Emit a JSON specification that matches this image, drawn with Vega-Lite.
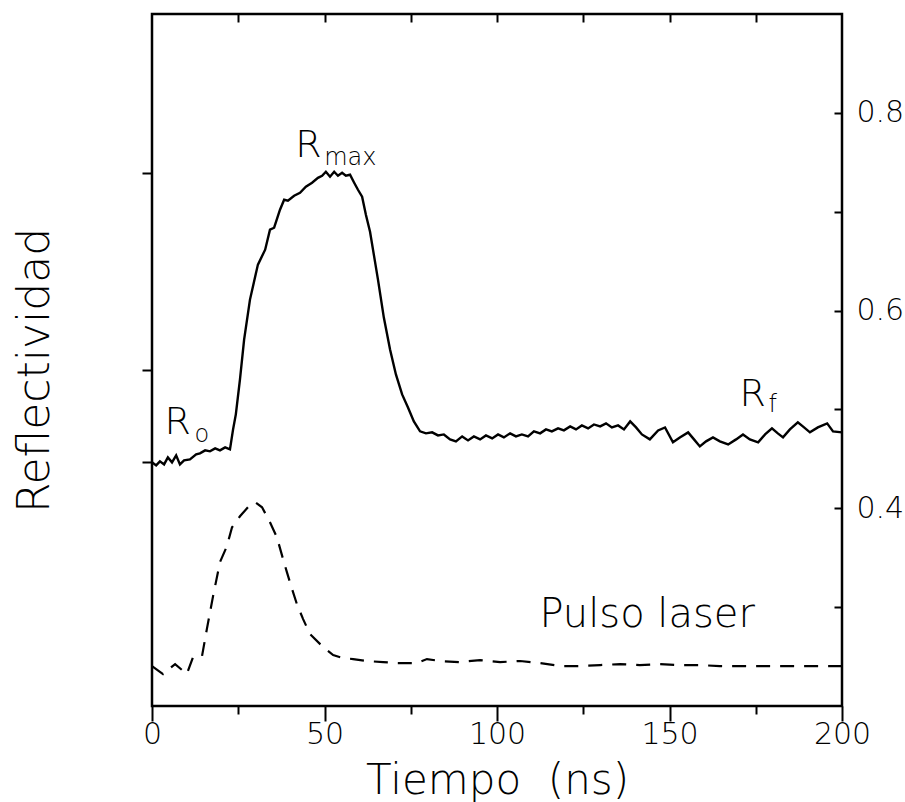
{
  "$schema": "https://vega.github.io/schema/vega-lite/v6.json",
  "width": 690,
  "height": 692,
  "autosize": {"type": "none"},
  "padding": {"left": 152, "top": 14, "right": 63, "bottom": 96},
  "background": "white",
  "datasets": {
    "reflect": [
      {"t": 0, "r": 0.4465}, {"t": 1.2, "r": 0.4434}, {"t": 2.3, "r": 0.4475}, {"t": 3.5, "r": 0.4444},
      {"t": 4.6, "r": 0.4515}, {"t": 5.8, "r": 0.4465}, {"t": 7.0, "r": 0.4535}, {"t": 8.1, "r": 0.4444},
      {"t": 9.3, "r": 0.4485}, {"t": 11.0, "r": 0.4495}, {"t": 12.8, "r": 0.4545}, {"t": 13.9, "r": 0.4556},
      {"t": 15.4, "r": 0.4586}, {"t": 16.8, "r": 0.4576}, {"t": 18.3, "r": 0.4606}, {"t": 19.7, "r": 0.4586},
      {"t": 21.2, "r": 0.4616}, {"t": 22.6, "r": 0.4596}, {"t": 23.5, "r": 0.4798}, {"t": 24.3, "r": 0.495},
      {"t": 25.5, "r": 0.5303}, {"t": 26.7, "r": 0.5707}, {"t": 28.4, "r": 0.6111}, {"t": 30.7, "r": 0.6465},
      {"t": 32.8, "r": 0.6616}, {"t": 34.2, "r": 0.6818}, {"t": 35.4, "r": 0.6838}, {"t": 37.1, "r": 0.702},
      {"t": 38.3, "r": 0.7121}, {"t": 39.4, "r": 0.7111}, {"t": 41.2, "r": 0.7162}, {"t": 42.9, "r": 0.7192},
      {"t": 44.6, "r": 0.7253}, {"t": 46.4, "r": 0.7293}, {"t": 48.1, "r": 0.7343}, {"t": 49.3, "r": 0.7364},
      {"t": 50.4, "r": 0.7404}, {"t": 51.6, "r": 0.7354}, {"t": 52.8, "r": 0.7404}, {"t": 53.9, "r": 0.7364},
      {"t": 55.1, "r": 0.7394}, {"t": 56.2, "r": 0.7364}, {"t": 57.4, "r": 0.7374}, {"t": 58.6, "r": 0.7293},
      {"t": 59.7, "r": 0.7222}, {"t": 60.9, "r": 0.7152}, {"t": 62.0, "r": 0.697}, {"t": 63.2, "r": 0.6798},
      {"t": 64.3, "r": 0.6566}, {"t": 65.5, "r": 0.6313}, {"t": 67.2, "r": 0.5929}, {"t": 69.0, "r": 0.5606},
      {"t": 70.7, "r": 0.5354}, {"t": 72.5, "r": 0.5152}, {"t": 74.2, "r": 0.502}, {"t": 75.9, "r": 0.4879},
      {"t": 77.7, "r": 0.4778}, {"t": 79.4, "r": 0.4758}, {"t": 81.2, "r": 0.4768}, {"t": 82.9, "r": 0.4737},
      {"t": 84.6, "r": 0.4747}, {"t": 86.4, "r": 0.4697}, {"t": 88.1, "r": 0.4677}, {"t": 89.9, "r": 0.4727},
      {"t": 91.6, "r": 0.4687}, {"t": 93.3, "r": 0.4727}, {"t": 95.1, "r": 0.4697}, {"t": 96.8, "r": 0.4737},
      {"t": 98.6, "r": 0.4707}, {"t": 100.3, "r": 0.4747}, {"t": 102.0, "r": 0.4717}, {"t": 103.8, "r": 0.4758},
      {"t": 105.5, "r": 0.4727}, {"t": 107.2, "r": 0.4747}, {"t": 109.0, "r": 0.4727}, {"t": 110.7, "r": 0.4778},
      {"t": 112.5, "r": 0.4758}, {"t": 114.2, "r": 0.4798}, {"t": 115.9, "r": 0.4778}, {"t": 117.7, "r": 0.4808},
      {"t": 119.4, "r": 0.4788}, {"t": 121.2, "r": 0.4828}, {"t": 122.9, "r": 0.4798}, {"t": 124.6, "r": 0.4838},
      {"t": 126.4, "r": 0.4808}, {"t": 128.1, "r": 0.4848}, {"t": 129.9, "r": 0.4828}, {"t": 131.6, "r": 0.4859},
      {"t": 133.3, "r": 0.4818}, {"t": 135.1, "r": 0.4838}, {"t": 136.8, "r": 0.4798}, {"t": 138.6, "r": 0.4879},
      {"t": 140.3, "r": 0.4818}, {"t": 142.0, "r": 0.4747}, {"t": 144.3, "r": 0.4697}, {"t": 146.7, "r": 0.4788},
      {"t": 148.7, "r": 0.4818}, {"t": 151.0, "r": 0.4667}, {"t": 153.0, "r": 0.4717}, {"t": 155.4, "r": 0.4768},
      {"t": 157.1, "r": 0.4697}, {"t": 158.8, "r": 0.4626}, {"t": 160.6, "r": 0.4677}, {"t": 162.6, "r": 0.4717},
      {"t": 164.6, "r": 0.4677}, {"t": 167.0, "r": 0.4646}, {"t": 169.3, "r": 0.4697}, {"t": 171.3, "r": 0.4747},
      {"t": 173.3, "r": 0.4697}, {"t": 175.7, "r": 0.4667}, {"t": 177.7, "r": 0.4747}, {"t": 179.7, "r": 0.4808},
      {"t": 181.4, "r": 0.4758}, {"t": 182.9, "r": 0.4717}, {"t": 184.9, "r": 0.4798}, {"t": 187.2, "r": 0.4869},
      {"t": 189.0, "r": 0.4818}, {"t": 190.7, "r": 0.4768}, {"t": 193.0, "r": 0.4818}, {"t": 195.7, "r": 0.4859},
      {"t": 197.4, "r": 0.4778}, {"t": 200, "r": 0.4768}
    ],
    "pulse": [
      {"t": 0, "p": 0.2404}, {"t": 3.2, "p": 0.2323}, {"t": 6.7, "p": 0.2424}, {"t": 10.1, "p": 0.2323},
      {"t": 11.9, "p": 0.2495}, {"t": 14.5, "p": 0.2505}, {"t": 15.9, "p": 0.2778}, {"t": 17.7, "p": 0.3111},
      {"t": 19.7, "p": 0.3455}, {"t": 21.7, "p": 0.3616}, {"t": 23.2, "p": 0.3808}, {"t": 25.5, "p": 0.3919},
      {"t": 27.8, "p": 0.401}, {"t": 29.9, "p": 0.4061}, {"t": 31.9, "p": 0.401}, {"t": 34.2, "p": 0.3859},
      {"t": 36.2, "p": 0.3707}, {"t": 38.0, "p": 0.3485}, {"t": 39.1, "p": 0.3354}, {"t": 40.6, "p": 0.3182},
      {"t": 42.0, "p": 0.303}, {"t": 43.8, "p": 0.2879}, {"t": 45.8, "p": 0.2727}, {"t": 49.6, "p": 0.2596},
      {"t": 52.5, "p": 0.2515}, {"t": 55.4, "p": 0.2485}, {"t": 58.3, "p": 0.2475}, {"t": 62.3, "p": 0.2455},
      {"t": 67.0, "p": 0.2444}, {"t": 71.0, "p": 0.2434}, {"t": 76.8, "p": 0.2434}, {"t": 79.7, "p": 0.2475},
      {"t": 83.5, "p": 0.2455}, {"t": 89.3, "p": 0.2444}, {"t": 95.1, "p": 0.2465}, {"t": 100.9, "p": 0.2444},
      {"t": 106.7, "p": 0.2455}, {"t": 112.5, "p": 0.2434}, {"t": 118.3, "p": 0.2404}, {"t": 124.1, "p": 0.2404},
      {"t": 129.9, "p": 0.2414}, {"t": 135.7, "p": 0.2424}, {"t": 141.4, "p": 0.2414}, {"t": 147.2, "p": 0.2424},
      {"t": 153.0, "p": 0.2414}, {"t": 158.8, "p": 0.2414}, {"t": 164.6, "p": 0.2404}, {"t": 170.4, "p": 0.2404},
      {"t": 176.2, "p": 0.2404}, {"t": 182.0, "p": 0.2404}, {"t": 187.8, "p": 0.2404}, {"t": 193.6, "p": 0.2404},
      {"t": 200, "p": 0.2404}
    ],
    "mainLabels": [
      {"t": 3.6, "v": 0.4747, "txt": "R"},
      {"t": 41.5, "v": 0.7556, "txt": "R"},
      {"t": 170.3, "v": 0.503, "txt": "R"}
    ],
    "subLabels": [
      {"t": 12.3, "v": 0.4667, "txt": "o"},
      {"t": 49.9, "v": 0.7475, "txt": "max"},
      {"t": 178.7, "v": 0.497, "txt": "f"}
    ],
    "note": [
      {"t": 112.3, "v": 0.28, "txt": "Pulso laser"}
    ]
  },
  "resolve": {"axis": {"x": "independent", "y": "independent"}},
  "layer": [
    {
      "data": {"name": "reflect"},
      "mark": {"type": "line", "color": "black", "strokeWidth": 2.4},
      "encoding": {
        "x": {"field": "t", "type": "quantitative",
              "scale": {"domain": [0, 200], "nice": false, "zero": false},
              "axis": {"orient": "bottom", "values": [0, 50, 100, 150, 200], "tickSize": 15,
                       "labelFontSize": 30, "labelBaseline": "alphabetic", "labelPadding": 22,
                       "labelFlush": false, "labelOverlap": false,
                       "title": "Tiempo\u00a0 (ns)", "titleFontSize": 42, "titleBaseline": "alphabetic",
                       "titleY": 87}},
        "y": {"field": "r", "type": "quantitative",
              "scale": {"domain": [0.2, 0.9], "nice": false, "zero": false},
              "axis": {"orient": "right", "values": [0.3, 0.4, 0.5, 0.6, 0.7, 0.8], "tickSize": -8,
                       "labelPadding": 22, "labelFontSize": 30, "labelBaseline": "middle",
                       "labelFlush": false, "labelOverlap": false,
                       "labelExpr": "indexof(['0.4','0.6','0.8'], format(datum.value, '.1f')) >= 0 ? format(datum.value, '.1f') : ''",
                       "title": null}}
      }
    },
    {
      "data": {"name": "pulse"},
      "mark": {"type": "line", "color": "black", "strokeWidth": 2.2, "strokeDash": [14, 10]},
      "encoding": {
        "x": {"field": "t", "type": "quantitative",
              "axis": {"orient": "top", "values": [25, 50, 75, 100, 125, 150, 175], "tickSize": -8,
                       "labels": false, "title": null}},
        "y": {"field": "p", "type": "quantitative",
              "axis": {"orient": "left", "values": [0.4465, 0.54, 0.739], "tickSize": 10,
                       "labels": false, "title": "Reflectividad", "titleFontSize": 44,
                       "titleBaseline": "alphabetic", "titleX": -104, "titleY": 356, "titleAlign": "center", "titleAngle": -90}}
      }
    },
    {
      "data": {"name": "mainLabels"},
      "mark": {"type": "text", "fontSize": 38, "fontWeight": 300, "align": "left", "baseline": "alphabetic", "color": "black"},
      "encoding": {
        "x": {"field": "t", "type": "quantitative",
              "axis": {"orient": "bottom", "values": [25, 75, 125, 175], "tickSize": 8, "labels": false, "title": null}},
        "y": {"field": "v", "type": "quantitative", "axis": null},
        "text": {"field": "txt"}
      }
    },
    {
      "data": {"name": "subLabels"},
      "mark": {"type": "text", "fontSize": 24, "fontWeight": 300, "align": "left", "baseline": "alphabetic", "color": "black"},
      "encoding": {
        "x": {"field": "t", "type": "quantitative", "axis": null},
        "y": {"field": "v", "type": "quantitative", "axis": null},
        "text": {"field": "txt"}
      }
    },
    {
      "data": {"name": "note"},
      "mark": {"type": "text", "fontSize": 40, "fontWeight": 300, "align": "left", "baseline": "alphabetic", "color": "black"},
      "encoding": {
        "x": {"field": "t", "type": "quantitative", "axis": null},
        "y": {"field": "v", "type": "quantitative", "axis": null},
        "text": {"field": "txt"}
      }
    }
  ],
  "config": {
    "font": "DejaVu Sans",
    "view": {"stroke": "black", "strokeWidth": 2.5},
    "axis": {"domain": false, "grid": false, "tickColor": "black", "tickWidth": 2,
             "labelColor": "black", "titleColor": "black", "labelFont": "DejaVu Sans",
             "titleFont": "DejaVu Sans", "titleFontWeight": 300, "labelFontWeight": 300},
    "text": {"font": "DejaVu Sans"}
  }
}
